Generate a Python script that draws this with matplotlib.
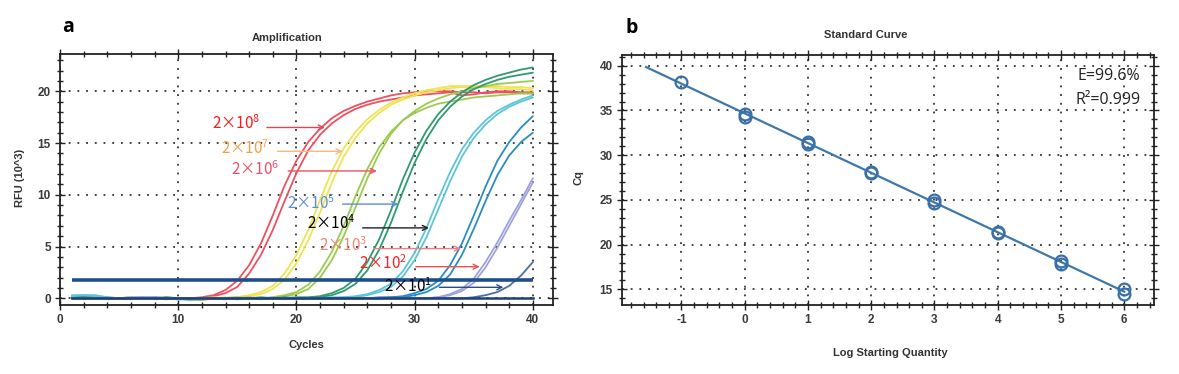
import matplotlib
matplotlib.use("Agg")
import matplotlib.pyplot as plt
from matplotlib.ticker import MultipleLocator
import numpy as np

plt.rcParams["axes.unicode_minus"] = False

# ---- panel a: amplification curves (RFU x 10^3 per cycle) ----
CYCLES = list(range(1, 41))

RED_1 = [0.1, 0.1, 0.0, 0.0, 0.0, 0.1, 0.0, 0.0, -0.1, 0.0, 0.0, 0.1,
         0.3, 0.8, 1.7, 3.2, 5.3, 8.0, 10.9, 13.3, 15.1, 16.4, 17.4, 18.1, 18.6, 19.0,
         19.3, 19.6, 19.8, 19.9, 20.0, 20.0, 20.0, 19.9, 19.9, 19.8, 19.9, 19.9, 19.8, 19.8]
RED_2 = [0.0, 0.1, 0.1, 0.0, 0.0, 0.0, 0.1, 0.0, 0.0, -0.1, 0.0, 0.0,
         0.2, 0.5, 1.1, 2.4, 4.2, 6.6, 9.4, 12.1, 14.3, 15.8, 16.9, 17.7, 18.3, 18.7,
         19.0, 19.2, 19.4, 19.6, 19.7, 19.8, 19.9, 19.6, 19.7, 19.9, 20.0, 20.0, 19.9, 19.9]
YELLOW_1 = [0.1, 0.0, 0.0, 0.1, 0.0, 0.0, 0.0, 0.1, 0.0, 0.0, -0.1, 0.0, 0.0, 0.1, 0.1,
            0.3, 0.6, 1.2, 2.4, 4.2, 6.6, 9.5, 12.3, 14.5, 16.1, 17.3, 18.2, 18.9, 19.4,
            19.8, 20.1, 20.3, 20.5, 20.5, 20.5, 20.5, 20.5, 20.4, 20.4, 20.3]
YELLOW_2 = [0.0, 0.0, 0.1, 0.0, 0.0, 0.1, 0.0, 0.0, 0.0, -0.1, 0.0, 0.0, 0.1, 0.0, 0.1,
            0.2, 0.4, 0.9, 1.8, 3.4, 5.6, 8.3, 11.2, 13.7, 15.5, 16.9, 17.9, 18.7, 19.2,
            19.6, 19.9, 20.1, 20.3, 20.4, 20.4, 20.4, 20.3, 20.2, 20.2, 20.1]
LIME_1 = [0.1, 0.1, 0.0, 0.0, 0.0, 0.0, 0.1, 0.0, 0.0, 0.0, -0.2, -0.1, 0.0, 0.0, 0.1, 0.0,
          -0.1, 0.1, 0.3, 0.6, 1.3, 2.6, 4.5, 7.0, 9.9, 12.5, 14.6, 16.1, 17.2, 17.9,
          18.4, 18.8, 19.0, 19.2, 19.4, 19.5, 19.6, 19.7, 19.8, 19.8]
LIME_2 = [0.0, 0.1, 0.1, 0.0, 0.0, 0.0, 0.0, 0.0, 0.1, 0.0, -0.1, -0.2, 0.0, 0.0, 0.0, 0.1,
          0.0, 0.1, 0.2, 0.4, 0.9, 2.0, 3.7, 6.0, 8.8, 11.6, 14.0, 15.9, 17.2, 18.1,
          18.8, 19.3, 19.7, 20.0, 20.3, 20.5, 20.7, 20.8, 20.9, 21.0]
GREEN_1 = [0.2, 0.2, 0.1, 0.0, 0.0, 0.0, 0.0, 0.1, 0.0, 0.0, 0.0, 0.0, 0.0, -0.1, 0.0,
           0.0, 0.1, 0.0, 0.0, 0.1, 0.1, 0.2, 0.5, 1.0, 1.9, 3.5, 5.7, 8.5, 11.5, 14.1,
           16.2, 17.8, 19.0, 19.9, 20.6, 21.1, 21.5, 21.8, 22.1, 22.3]
GREEN_2 = [0.1, 0.2, 0.2, 0.0, 0.0, 0.0, 0.0, 0.0, 0.1, 0.0, 0.0, 0.0, 0.0, 0.0, -0.1,
           0.0, 0.0, 0.0, 0.1, 0.0, 0.0, 0.1, 0.3, 0.7, 1.4, 2.7, 4.7, 7.3, 10.3, 13.1,
           15.4, 17.2, 18.5, 19.5, 20.2, 20.7, 21.1, 21.4, 21.6, 21.8]
CYAN_1 = [0.3, 0.3, 0.3, 0.1, 0.0, 0.0, 0.0, 0.0, 0.0, -0.1, -0.1, 0.0, 0.0, 0.0, 0.0,
          0.0, 0.0, 0.0, 0.0, 0.0, 0.0, 0.0, 0.1, 0.1, 0.2, 0.4, 0.8, 1.4, 2.6, 4.4,
          6.8, 9.6, 12.2, 14.4, 16.0, 17.2, 18.1, 18.7, 19.2, 19.6]
CYAN_2 = [0.2, 0.3, 0.2, 0.1, 0.0, 0.0, 0.0, 0.0, 0.0, -0.1, -0.1, -0.1, 0.0, 0.0, 0.0,
          0.0, 0.0, 0.0, 0.0, 0.0, 0.0, 0.0, 0.0, 0.1, 0.1, 0.3, 0.6, 1.1, 2.1, 3.7,
          5.9, 8.6, 11.3, 13.7, 15.5, 16.8, 17.8, 18.5, 19.0, 19.4]
BLUE_1 = [0.0, 0.0, 0.0, 0.0, 0.0, 0.0, 0.0, 0.0, 0.0, 0.0, 0.0, 0.0, 0.0, 0.0, 0.0,
          0.0, 0.0, 0.0, 0.0, 0.0, 0.0, 0.0, 0.0, 0.0, 0.0, 0.0, 0.1, 0.1, 0.2, 0.5,
          0.9, 1.7, 3.2, 5.3, 8.0, 10.8, 13.3, 15.1, 16.5, 17.6]
BLUE_2 = [0.0, 0.0, 0.0, 0.0, 0.0, 0.0, 0.0, 0.0, 0.0, 0.0, 0.0, 0.0, 0.0, 0.0, 0.0,
          0.0, 0.0, 0.0, 0.0, 0.0, 0.0, 0.0, 0.0, 0.0, 0.0, 0.0, 0.0, 0.1, 0.1, 0.3,
          0.6, 1.2, 2.3, 4.2, 6.7, 9.4, 11.9, 13.8, 15.1, 16.0]
LAVENDER_1 = [0.0, 0.0, 0.0, 0.0, 0.0, 0.1, 0.1, 0.1, 0.0, 0.0, 0.0, 0.0, 0.0, 0.0, 0.0,
              0.0, 0.0, 0.0, 0.0, 0.0, 0.0, 0.0, 0.0, 0.0, 0.0, 0.0, 0.0, 0.0, 0.0, 0.0,
              0.0, 0.1, 0.4, 0.9, 1.9, 3.5, 5.4, 7.5, 9.5, 11.6]
LAVENDER_2 = [0.0, 0.0, 0.0, 0.0, 0.0, 0.0, 0.1, 0.1, 0.0, 0.0, 0.0, 0.0, 0.0, 0.0, 0.0,
              0.0, 0.0, 0.0, 0.0, 0.0, 0.0, 0.0, 0.0, 0.0, 0.0, 0.0, 0.0, 0.0, 0.0, 0.0,
              0.0, 0.1, 0.3, 0.7, 1.5, 3.0, 4.9, 7.0, 9.1, 11.2]
SLATE_1 = [0.0, 0.0, 0.0, 0.0, 0.0, 0.0, 0.0, 0.0, 0.0, 0.0, 0.0, 0.0, 0.0, 0.0, 0.0,
           0.0, 0.0, 0.0, 0.0, 0.0, 0.0, 0.0, 0.0, 0.0, 0.0, 0.0, 0.0, 0.0, 0.0, 0.0,
           0.0, 0.0, 0.0, 0.0, 0.1, 0.3, 0.6, 1.2, 2.2, 3.5]
NTC = [0.0] * 40
THRESHOLD = 1.75

CURVE_GROUPS = [
    ("#ef5060", [RED_1, RED_2]),
    ("#eee455", [YELLOW_1, YELLOW_2]),
    ("#9dcb4f", [LIME_1, LIME_2]),
    ("#2f9b6e", [GREEN_1, GREEN_2]),
    ("#5cc6d8", [CYAN_1, CYAN_2]),
    ("#2b8cc6", [BLUE_1, BLUE_2]),
    ("#a0a2dc", [LAVENDER_1, LAVENDER_2]),
    ("#4a6f9f", [SLATE_1]),
]

DILUTION_EXP = [8, 7, 6, 5, 4, 3, 2, 1]

# ---- panel b: standard curve ----
LOG_QTY = [-1, 0, 0, 1, 1, 2, 2, 3, 3, 4, 4, 5, 5, 6, 6]
CQ = [38.2, 34.3, 34.6, 31.3, 31.5, 28.0, 28.1, 24.7, 25.0, 21.3, 21.4, 17.8, 18.2, 14.5, 15.0]
EFFICIENCY = "E=99.6%"
R_SQUARED = "R²=0.999"

# label layout in panel a: (text x, text y, arrow start, arrow end, arrow y, text colour, arrow colour)
LABEL_LAYOUT = [
    (12.85, 16.9, 17.5, 22.4, 16.5, "#ff1a1a", "#f04050"),
    (13.6, 14.5, 18.4, 23.9, 14.2, "#f5a048", "#f8b880"),
    (14.5, 12.4, 19.3, 26.8, 12.3, "#f0506a", "#f05060"),
    (19.2, 9.15, 23.9, 28.6, 9.1, "#5b8ed6", "#5b8ed6"),
    (20.9, 7.2, 25.6, 31.2, 6.8, "#000000", "#202020"),
    (21.9, 5.1, 26.6, 33.9, 4.8, "#f4857a", "#f08080"),
    (25.3, 3.3, 30.1, 35.5, 3.05, "#ff2020", "#f05050"),
    (27.4, 1.1, 32.1, 37.5, 1.06, "#000000", "#2a4a8a"),
]

TICK_COLOR = "#3a3a3a"
DOTS = (0, (1.2, 4.5))


def style_axis(ax):
    ax.tick_params(which="both", direction="inout", top=True, right=True,
                   labeltop=False, labelright=False, color="#222222", width=1.0)
    ax.tick_params(which="major", length=7, labelsize=8.5, labelcolor=TICK_COLOR, pad=3)
    ax.tick_params(which="minor", length=4)
    for lab in ax.get_xticklabels() + ax.get_yticklabels():
        lab.set_fontweight("bold")
        lab.set_family("Liberation Sans")
    for spine in ax.spines.values():
        spine.set_linewidth(1.3)
        spine.set_color("#222222")
    ax.grid(True, which="major", color="#111111", linestyle=DOTS, linewidth=1.1)


fig = plt.figure(figsize=(11.79, 3.74), dpi=100)

# panel a
ax1 = fig.add_axes([60 / 1179, 1 - 305 / 374, 493 / 1179, 251 / 374])
for color, curves in CURVE_GROUPS:
    for vals in curves:
        ax1.plot(CYCLES, vals, color=color, lw=1.3, solid_capstyle="round")
ax1.plot(CYCLES, NTC, color="#1e3f78", lw=1.8)
ax1.hlines(THRESHOLD, CYCLES[0], CYCLES[-1], color="#1f4f8a", lw=2.6, zorder=5)

for exp, (tx, ty, ax0, ax_end, ay, tcol, acol) in zip(DILUTION_EXP, LABEL_LAYOUT):
    ax1.text(tx, ty, "2×10$\\mathregular{^{%d}}$" % exp, color=tcol, fontsize=11,
             family="Noto Sans CJK SC", ha="left", va="center", zorder=6)
    ax1.annotate("", xy=(ax_end, ay), xytext=(ax0, ay),
                 arrowprops=dict(arrowstyle="->", color=acol, lw=1.0,
                                 shrinkA=0, shrinkB=0, mutation_scale=9), zorder=6)

ax1.set_xlim(0, 41.7)
ax1.set_ylim(-0.65, 23.6)
ax1.xaxis.set_major_locator(MultipleLocator(10))
ax1.xaxis.set_minor_locator(MultipleLocator(2))
ax1.yaxis.set_major_locator(MultipleLocator(5))
ax1.yaxis.set_minor_locator(MultipleLocator(1))
style_axis(ax1)

fig.text(287 / 1179, 1 - 38 / 374, "Amplification", ha="center", va="center",
         fontsize=8, fontweight="bold", family="Liberation Sans", color="#333333")
fig.text(306 / 1179, 1 - 345 / 374, "Cycles", ha="center", va="center",
         fontsize=8, fontweight="bold", family="Liberation Sans", color="#333333")
fig.text(20 / 1179, 1 - 178 / 374, "RFU (10^3)", ha="center", va="center", rotation=90,
         fontsize=8, fontweight="bold", family="Liberation Sans", color="#333333")
fig.text(68 / 1179, 1 - 27 / 374, "a", ha="center", va="center",
         fontsize=14, fontweight="bold", family="Open Sans")

# panel b
ax2 = fig.add_axes([622 / 1179, 1 - 305 / 374, 532 / 1179, 250 / 374])
slope, intercept = np.polyfit(LOG_QTY, CQ, 1)
x_fit = np.array([-1.56, max(LOG_QTY)])
ax2.plot(x_fit, slope * x_fit + intercept, color="#3f78a8", lw=1.6)
ax2.plot(LOG_QTY, CQ, linestyle="none", marker="o", markersize=8.5,
         markerfacecolor="none", markeredgecolor="#3a70a8", markeredgewidth=1.6)
ax2.set_xlim(-1.94, 6.47)
ax2.set_ylim(13.25, 41.2)
ax2.xaxis.set_major_locator(MultipleLocator(1))
ax2.xaxis.set_minor_locator(MultipleLocator(0.2))
ax2.yaxis.set_major_locator(MultipleLocator(5))
ax2.yaxis.set_minor_locator(MultipleLocator(1))
style_axis(ax2)
ax2.text(0.974, 0.916, EFFICIENCY, transform=ax2.transAxes, ha="right", va="center",
         fontsize=11.5, family="Open Sans", color="#222222")
ax2.text(0.974, 0.82, R_SQUARED, transform=ax2.transAxes, ha="right", va="center",
         fontsize=11.5, family="Open Sans", color="#222222")

fig.text(866 / 1179, 1 - 35 / 374, "Standard Curve", ha="center", va="center",
         fontsize=8, fontweight="bold", family="Liberation Sans", color="#333333")
fig.text(890 / 1179, 1 - 353 / 374, "Log Starting Quantity", ha="center", va="center",
         fontsize=8, fontweight="bold", family="Liberation Sans", color="#333333")
fig.text(578 / 1179, 1 - 178 / 374, "Cq", ha="center", va="center", rotation=90,
         fontsize=8, fontweight="bold", family="Liberation Sans", color="#333333")
fig.text(632 / 1179, 1 - 28 / 374, "b", ha="center", va="center",
         fontsize=14, fontweight="bold", family="Open Sans")

fig.savefig("out.png", dpi=100)
